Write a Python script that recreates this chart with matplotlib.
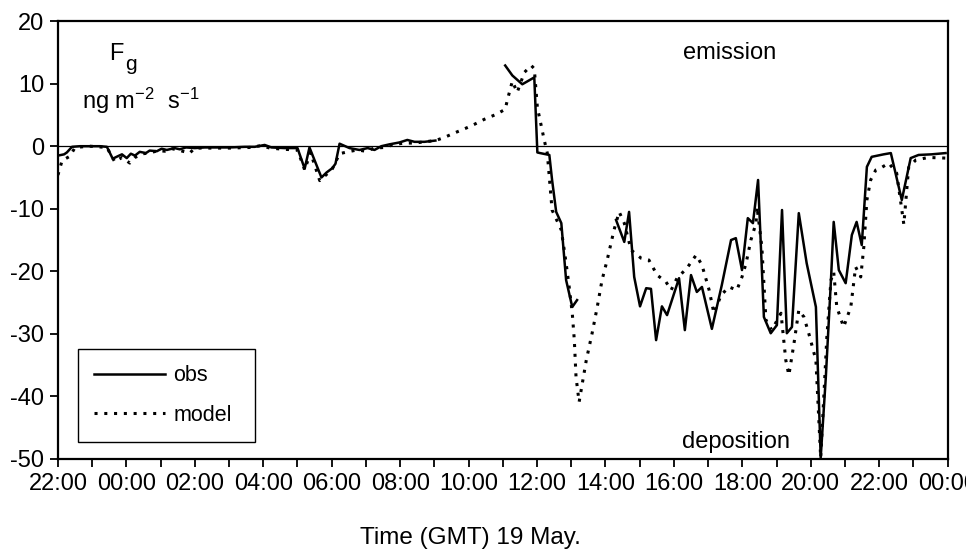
import numpy as np
import matplotlib.pyplot as plt
from matplotlib.ticker import MultipleLocator, FuncFormatter

# Tempo in ore rispetto alla mezzanotte del 19 maggio (-2 = 22:00 del 18)
obs_t = [-2.0, -1.82, -1.74, -1.59, -1.36, -1.07, -0.77, -0.57, -0.40, -0.25,
         -0.13, 0.01, 0.13, 0.25, 0.39, 0.57, 0.68, 0.89, 1.03, 1.18,
         1.41, 1.56, 1.74, 2.0, 2.29, 2.58, 3.02, 3.46, 3.75, 4.04,
         4.24, 4.62, 5.0, 5.21, 5.35, 5.70, 5.85, 6.02, 6.11, 6.23,
         6.52, 6.81, 7.05, 7.25, 7.45, 7.69, 7.98, 8.21, 8.42, 8.71,
         9.03, 10.0,
         11.07, 11.28, 11.57, 11.92, 12.01, 12.09, 12.36, 12.44, 12.56, 12.71,
         12.85, 13.03, 13.17, 13.7,
         14.31, 14.55, 14.69, 14.84, 15.01, 15.19, 15.33, 15.48, 15.65, 15.80,
         16.15, 16.32, 16.50, 16.67, 16.82, 17.11, 17.40, 17.67, 17.81, 17.99,
         18.16, 18.31, 18.46, 18.63, 18.83, 19.01, 19.16, 19.30, 19.45, 19.65,
         19.88, 20.15, 20.29, 20.44, 20.59, 20.67, 20.82, 21.02, 21.20, 21.34,
         21.49, 21.64, 21.78, 22.13, 22.34, 22.66, 22.92, 23.15, 23.53, 23.94]
obs_v = [-1.5, -1.3, -1.0, -0.1, 0.0, 0.0, 0.0, -0.1, -2.0, -1.6,
         -1.3, -1.9, -1.2, -1.5, -0.9, -1.1, -0.7, -0.8, -0.4, -0.6,
         -0.3, -0.5, -0.2, -0.3, -0.2, -0.2, -0.2, -0.1, -0.1, 0.2,
         -0.2, -0.3, -0.3, -3.6, -0.2, -5.0, -4.2, -3.5, -2.8, 0.4,
         -0.3, -0.6, -0.3, -0.6, 0.0, 0.3, 0.6, 1.0, 0.7, 0.7,
         0.9, np.nan,
         12.9, 11.3, 9.9, 11.0, -1.0, -1.1, -1.4, -5.4, -10.5, -12.3,
         -21.4, -25.7, -24.6, np.nan,
         -11.8, -15.3, -10.5, -20.9, -25.6, -22.7, -22.8, -31.0, -25.6, -27.0,
         -21.1, -29.4, -20.6, -23.3, -22.5, -29.2, -22.2, -15.0, -14.7, -19.8,
         -11.5, -12.3, -5.4, -27.3, -29.9, -28.6, -10.2, -29.9, -28.9, -10.7,
         -18.7, -25.7, -49.8, -36.9, -21.4, -12.1, -19.8, -21.9, -14.2, -12.1,
         -15.8, -3.3, -1.7, -1.3, -1.1, -8.6, -1.9, -1.4, -1.3, -1.1]

model_t = [-2.0, -1.88, -1.65, -1.50, -1.07, -0.57, -0.34, -0.13, 0.10, 0.25,
           0.48, 0.68, 0.92, 1.12, 1.33, 1.50, 1.85, 2.0, 2.44, 3.02,
           3.60, 3.95, 4.19, 4.62, 5.0, 5.21, 5.38, 5.65, 5.85, 6.02,
           6.23, 6.46, 6.75, 6.99, 7.25, 7.54, 7.83, 8.13, 8.42, 8.71,
           9.03, 9.29, 9.58, 9.93, 10.17, 10.46, 10.81, 11.07, 11.13, 11.22,
           11.28, 11.42, 11.63, 11.83, 11.92, 12.01, 12.21, 12.30, 12.44, 12.71,
           12.85, 12.94, 13.03, 13.09, 13.14, 13.23, 13.44, 13.61, 13.76, 13.90,
           14.05, 14.25, 14.40, 14.55, 14.75, 15.04, 15.27, 15.51, 15.77, 15.92,
           16.09, 16.38, 16.65, 16.82, 17.03, 17.17, 17.38, 17.61, 17.84, 17.99,
           18.11, 18.25, 18.40, 18.43, 18.57, 18.69, 18.86, 19.13, 19.27, 19.36,
           19.51, 19.65, 19.80, 19.94, 20.15, 20.29, 20.47, 20.59, 20.67, 20.76,
           20.96, 21.17, 21.31, 21.46, 21.55, 21.64, 21.75, 21.90, 22.07, 22.28,
           22.51, 22.72, 22.86, 23.07, 23.44, 23.94]
model_v = [-4.6, -2.3, -1.6, -0.2, 0.0, -0.2, -2.5, -1.8, -2.7, -1.8,
           -1.2, -1.1, -0.7, -0.8, -0.4, -0.6, -1.1, -0.3, -0.3, -0.3,
           -0.2, 0.1, -0.3, -0.5, -0.6, -3.8, -1.0, -5.5, -4.5, -3.6,
           -1.2, -0.9, -0.6, -0.8, -0.3, -0.2, 0.3, 0.5, 0.5, 0.7,
           0.9, 1.4, 2.1, 2.9, 3.5, 4.3, 5.1, 5.9, 7.3, 9.2,
           10.4, 8.6, 11.8, 12.9, 12.4, 6.2, 1.0, -1.1, -10.2, -13.4,
           -18.7, -22.5, -26.7, -31.0, -36.9, -40.9, -34.2, -29.9, -25.7, -21.4,
           -18.2, -13.4, -10.5, -12.3, -16.6, -17.9, -18.2, -20.6, -21.7, -23.0,
           -21.1, -19.5, -17.4, -19.0, -23.0, -26.7, -23.8, -22.5, -23.0, -20.9,
           -18.7, -15.0, -12.3, -9.7, -16.1, -27.8, -29.4, -26.7, -34.2, -36.6,
           -31.5, -26.2, -27.3, -29.9, -34.2, -49.8, -30.5, -21.4, -20.1, -25.7,
           -28.9, -25.7, -19.3, -20.9, -16.1, -8.6, -5.4, -3.8, -3.4, -2.7,
           -4.3, -12.5, -3.4, -2.2, -1.8, -1.9]


def hour_label(x, pos):
    return '%02d:00' % (int(round(x)) % 24)


plt.rcParams['font.family'] = ['Liberation Sans', 'DejaVu Sans']
plt.rcParams['axes.unicode_minus'] = False
plt.rcParams['mathtext.fontset'] = 'custom'
plt.rcParams['mathtext.rm'] = 'Liberation Sans'
plt.rcParams['mathtext.it'] = 'Liberation Sans'

fig = plt.figure(figsize=(9.66, 5.55), dpi=100)
ax = fig.add_axes([0.060, 0.173, 0.921, 0.789])

ax.axhline(0, color='black', lw=0.9)
ax.plot(obs_t, obs_v, color='black', lw=1.8, label='obs')
ax.plot(model_t, model_v, color='black', lw=2.2, linestyle=(0, (1, 2.2)), label='model')

ax.set_xlim(-2, 24)
ax.set_ylim(-50, 20)
ax.xaxis.set_major_locator(MultipleLocator(2))
ax.xaxis.set_minor_locator(MultipleLocator(1))
ax.xaxis.set_major_formatter(FuncFormatter(hour_label))
ax.yaxis.set_major_locator(MultipleLocator(10))
ax.tick_params(axis='both', which='both', direction='out', length=6, width=1.3,
               labelsize=17, pad=4)
for s in ax.spines.values():
    s.set_linewidth(1.6)

# Etichetta della grandezza e unita' di misura
ax.text(0.058, 0.911, 'F', transform=ax.transAxes, fontsize=17, va='baseline')
ax.text(0.075, 0.888, 'g', transform=ax.transAxes, fontsize=15, va='baseline')
ax.text(0.027, 0.80, r'ng m$^\mathregular{-2}$  s$^\mathregular{-1}$', transform=ax.transAxes,
        fontsize=17, va='baseline')
ax.text(0.755, 0.926, 'emission', transform=ax.transAxes, fontsize=17,
        ha='center', va='center')
ax.text(0.762, 0.039, 'deposition', transform=ax.transAxes, fontsize=17,
        ha='center', va='center')

leg = ax.legend(loc='lower left', bbox_to_anchor=(0.022, 0.039, 0.199, 0.214),
                mode='expand', fontsize=15.5, handlelength=3.3, handletextpad=0.4,
                labelspacing=0.85, borderpad=0.75, fancybox=False, framealpha=1,
                edgecolor='black', borderaxespad=0)
leg.get_frame().set_linewidth(1.0)

fig.text(470 / 966, 1 - 538 / 555, 'Time (GMT) 19 May.', fontsize=17.5,
         ha='center', va='center')

fig.savefig('out.png', dpi=100)
